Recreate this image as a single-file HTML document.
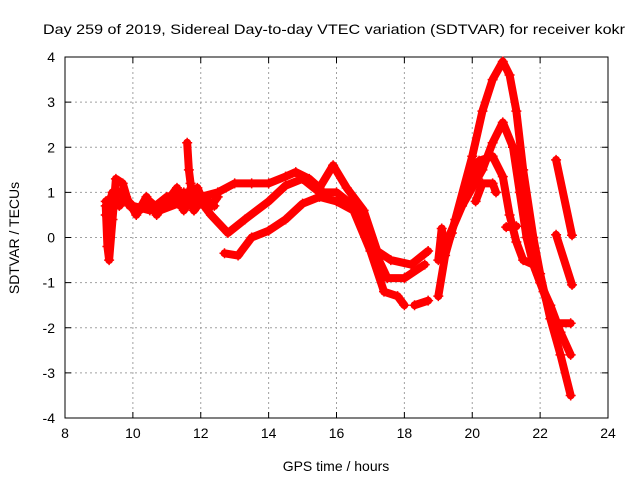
<!DOCTYPE html>
<html><head><meta charset="utf-8"><style>
html,body{margin:0;padding:0;background:#fff}
svg{display:block;font-family:"Liberation Sans",sans-serif}
</style></head><body>
<svg id="chart" width="640" height="480" viewBox="0 0 640 480">
<text x="334" y="34" font-size="14" text-anchor="middle" textLength="582" lengthAdjust="spacingAndGlyphs">Day 259 of 2019, Sidereal Day-to-day VTEC variation (SDTVAR) for receiver kokr</text>
<text x="336" y="471" font-size="14" text-anchor="middle">GPS time / hours</text>
<text transform="translate(19,238) rotate(-90)" font-size="14" text-anchor="middle">SDTVAR / TECUs</text>
<g id="grid"></g>
<g id="axes"></g>
<g id="marks"></g>
</svg>
<script>
const xTicks=[8,10,12,14,16,18,20,22,24];
const yTicks=[-4,-3,-2,-1,0,1,2,3,4];
const seriesA=[[9.2,0.7],[9.25,-0.2],[9.3,-0.5],[9.4,0.4],[9.5,1.3],[9.7,1.2],[9.9,0.7],[10.2,0.6],[10.5,0.8],[10.8,0.6],[11.1,0.9],[11.4,0.7],[11.6,1.0],[11.8,0.6],[12.1,0.9],[12.4,0.7]];
const seriesA2=[[9.2,0.5],[9.4,1.0],[9.6,0.7],[9.8,0.9],[10.1,0.5],[10.4,0.9],[10.7,0.5],[11.0,0.8],[11.3,1.1],[11.5,0.6],[11.9,1.1],[12.2,0.6],[12.5,0.9]];
const seriesB=[[9.2,0.8],[9.6,1.0],[10,0.7],[10.5,0.6],[11,0.9],[11.5,1.0],[12,0.9],[12.5,1.0],[13,1.2],[13.5,1.2],[14,1.2],[14.5,1.35],[14.8,1.45],[15.2,1.3],[15.5,1.1],[15.9,1.6],[16.3,1.1],[16.8,0.6],[17.2,-0.3],[17.6,-0.5],[18.2,-0.6],[18.7,-0.3]];
const seriesC=[[10.8,0.6],[11.5,0.8],[12,0.8],[12.3,0.5],[12.8,0.1],[13.3,0.4],[14,0.8],[14.5,1.15],[15,1.3],[15.5,1.0],[16,1.0],[16.5,0.7],[17,-0.1],[17.5,-0.9],[18,-0.9],[18.6,-0.6]];
const seriesD=[[12.7,-0.35],[13.1,-0.4],[13.5,0.0],[14,0.15],[14.5,0.4],[15,0.75],[15.5,0.9],[16,0.8],[16.5,0.6],[17,-0.3],[17.4,-1.2],[17.8,-1.3],[18.0,-1.5]];
const seriesE=[[18.3,-1.5],[18.7,-1.4]];
const seriesF=[[11.6,2.1],[11.65,1.5],[11.7,1.2],[11.8,0.6]];
const seriesG=[[19.0,-1.3],[19.2,-0.4],[19.5,0.4],[20,1.8],[20.3,2.8],[20.6,3.5],[20.9,3.9],[21.1,3.6],[21.3,2.8],[21.5,1.5],[21.8,0.0],[22,-0.8],[22.3,-1.8],[22.6,-2.6],[22.9,-3.5]];
const seriesH=[[19.3,0.0],[19.7,0.7],[20.0,1.1],[20.3,1.5],[20.6,2.1],[20.9,2.55],[21.2,2.0],[21.4,1.0],[21.6,0.0],[21.8,-0.6],[22,-1.0],[22.3,-1.5],[22.6,-2.1],[22.9,-2.6]];
const seriesI=[[19.8,1.0],[20.2,1.7],[20.6,1.8],[20.9,1.35],[21.1,0.5],[21.3,-0.1],[21.5,-0.5],[21.8,-0.6],[22.1,-1.2],[22.4,-1.9],[22.9,-1.9]];
const seriesJ=[[20.1,0.8],[20.3,1.2],[20.6,1.2],[20.7,1.0]];
const seriesK=[[21.0,0.23],[21.3,0.25]];
const seriesL=[[22.47,1.72],[22.94,0.05]];
const seriesM=[[22.47,0.06],[22.94,-1.05]];
const seriesN=[[19.0,-0.5],[19.1,0.2],[19.2,-0.3],[19.4,0.1]];
const allSeries=[seriesA,seriesA2,seriesB,seriesC,seriesD,seriesE,seriesF,seriesG,seriesH,seriesI,seriesJ,seriesK,seriesL,seriesM,seriesN];
const L=65,R=608,T=57,B=418;
const xs=v=>L+(v-8)/(24-8)*(R-L);
const ys=v=>B-(v+4)/8*(B-T);
const NS="http://www.w3.org/2000/svg";
const grid=document.getElementById('grid'),axes=document.getElementById('axes'),marks=document.getElementById('marks');
function mk(tag,attrs,parent){const e=document.createElementNS(NS,tag);for(const k in attrs)e.setAttribute(k,attrs[k]);parent.appendChild(e);return e;}
xTicks.forEach(t=>{
  const x=xs(t);
  if(t>8&&t<24){const g=mk('line',{x1:x,x2:x,y1:T,y2:B,stroke:'#a0a0a0','stroke-dasharray':'2,3'},grid);
  
  }
  const tk=mk('line',{x1:x,x2:x,y1:B,y2:B-6,stroke:'#000'},axes);
  
  
  const tk2=mk('line',{x1:x,x2:x,y1:T,y2:T+6,stroke:'#000'},axes);
  
  
  const lb=mk('text',{x:x,y:B+20,'font-size':14,'text-anchor':'middle'},axes);lb.textContent=t;
  
  
});
yTicks.forEach(t=>{
  const y=ys(t);
  if(t>-4&&t<4){const g=mk('line',{x1:L,x2:R,y1:y,y2:y,stroke:'#a0a0a0','stroke-dasharray':'2,3'},grid);
  
  }
  const tk=mk('line',{x1:L,x2:L+6,y1:y,y2:y,stroke:'#000'},axes);
  
  
  const tk2=mk('line',{x1:R,x2:R-6,y1:y,y2:y,stroke:'#000'},axes);
  
  
  const lb=mk('text',{x:L-10,y:y+5,'font-size':14,'text-anchor':'end'},axes);lb.textContent=t;
  
  
});
const frame=mk('rect',{x:L,y:T,width:R-L,height:B-T,fill:'none',stroke:'#000'},axes);


allSeries.forEach((s,i)=>{
  const pts=s.map(p=>xs(p[0])+','+ys(p[1])).join(' ');
  const pl=mk('polyline',{points:pts,fill:'none',stroke:'#ff0000','stroke-width':8,'stroke-linejoin':'round','stroke-linecap':'round'},marks);
  
  
  s.forEach(p=>{
    const x=xs(p[0]),y=ys(p[1]);
    const m=mk('path',{d:`M${x-5},${y}H${x+5}M${x},${y-5}V${y+5}`,stroke:'#ff0000','stroke-width':1.5},marks);
    
    
  });
});
</script>
</body></html>
